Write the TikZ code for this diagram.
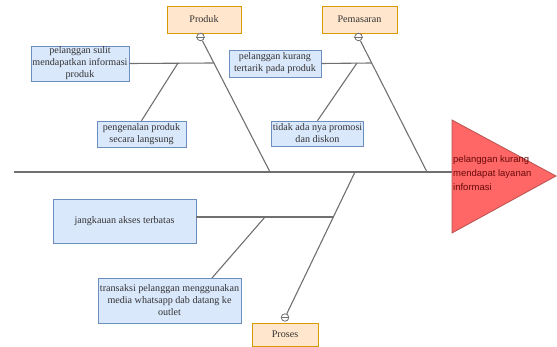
\documentclass[tikz,border=0pt]{standalone}
\usepackage{fontspec}
\setmainfont{Liberation Serif}
\newfontfamily\headfont{Liberation Sans}
\usetikzlibrary{calc}
\definecolor{causefill}{HTML}{DAE8FC}
\definecolor{causeline}{HTML}{6C8EBF}
\definecolor{catfill}{HTML}{FFE6CC}
\definecolor{catline}{HTML}{D79B00}
\definecolor{headfill}{HTML}{FF6666}
\definecolor{headline}{HTML}{B85450}
\definecolor{headtext}{HTML}{6B0A0A}
\definecolor{bone}{HTML}{707070}
\tikzset{
  cause/.style={draw=causeline, fill=causefill, line width=0.6pt, align=center,
    font=\fontsize{10.1}{12}\selectfont, text=black!80, inner sep=1pt},
  category/.style={draw=catline, fill=catfill, line width=0.6pt, align=center,
    font=\fontsize{10.1}{12}\selectfont, text=black!80,
    minimum height=27pt, inner sep=1pt},
  bonestyle/.style={draw=bone, line width=1.1pt},
  joint/.style={circle, draw=bone, fill=white, line width=0.8pt,
    minimum size=7.5pt, inner sep=0pt},
}
\begin{document}
\begin{tikzpicture}[x=1pt,y=-1pt]
\useasboundingbox (0,0) rectangle (557,347);

% fish head
\coordinate (ht) at (452,120);
\coordinate (hb) at (452,233);
\coordinate (hp) at (556,176);
\filldraw[fill=headfill, draw=headline, line width=0.8pt] (ht) -- (hp) -- (hb) -- cycle;
\node[anchor=north west, align=left, inner sep=0pt, text=headtext,
  font=\headfont\fontsize{9.5}{14}\selectfont] (head) at (453,155)
  {pelanggan kurang\\mendapat layanan\\informasi};

% spine
\coordinate (tail) at (14,172);
\coordinate (sProduk) at (270,172);
\coordinate (sPemasaran) at (427,172);
\coordinate (sProses) at (355,172);
\coordinate (sHead) at (452,172);
\draw[bonestyle] (tail) -- (sHead);

% categories
\node[category, minimum width=74pt] (produk) at (204,19.5) {Produk};
\node[category, minimum width=75pt] (pemasaran) at (359.5,19.5) {Pemasaran};
\node[category, minimum width=66pt, minimum height=23pt] (proses) at (285,334.5) {Proses};

\node[joint] (cProduk) at (200.5,37) {};
\node[joint] (cPemasaran) at (358.5,37) {};
\node[joint] (cProses) at (285,317.5) {};

\draw[bonestyle] (cProduk) -- (sProduk);
\draw[bonestyle] (cPemasaran) -- (sPemasaran);
\draw[bonestyle] (cProses) -- (sProses);
\foreach \c in {cProduk,cPemasaran,cProses}
  \draw[draw=bone, line width=0.8pt] (\c.west) -- (\c.east);

% causes
\node[cause, minimum width=98pt, minimum height=35pt] (c1) at (80,63.5)
  {pelanggan sulit\\mendapatkan informasi\\produk};
\node[cause, minimum width=89pt, minimum height=26pt] (c2) at (141.5,134)
  {pengenalan produk\\secara langsung};
\node[cause, minimum width=92pt, minimum height=27pt] (c3) at (275,63.5)
  {pelanggan kurang\\tertarik pada produk};
\node[cause, minimum width=91pt, minimum height=25pt] (c4) at (317.5,133.5)
  {tidak ada nya promosi\\dan diskon};
\node[cause, minimum width=143pt, minimum height=44pt] (c5) at (124.5,221)
  {jangkauan akses terbatas};
\node[cause, minimum width=143pt, minimum height=45pt] (c6) at (169.5,300.5)
  {transaksi pelanggan menggunakan\\media whatsapp dab datang ke\\outlet};

% branch joints
\coordinate (jProduk) at (213.5,63);
\coordinate (dProduk) at (178,63);
\coordinate (jPemasaran) at (371.5,63);
\coordinate (dPemasaran) at (357,63);
\coordinate (jProses) at (333.5,217);
\coordinate (dProses) at (265,217);
\coordinate (c6top) at (212,278);

\draw[bonestyle] (c1.east) -- (jProduk);
\draw[bonestyle] (dProduk) -- (c2.north);
\draw[bonestyle] (c3.east) -- (jPemasaran);
\draw[bonestyle] (dPemasaran) -- (c4.north);
\draw[bonestyle] (c5.east |- jProses) -- (jProses);
\draw[bonestyle] (dProses) -- (c6top);
\end{tikzpicture}
\end{document}
